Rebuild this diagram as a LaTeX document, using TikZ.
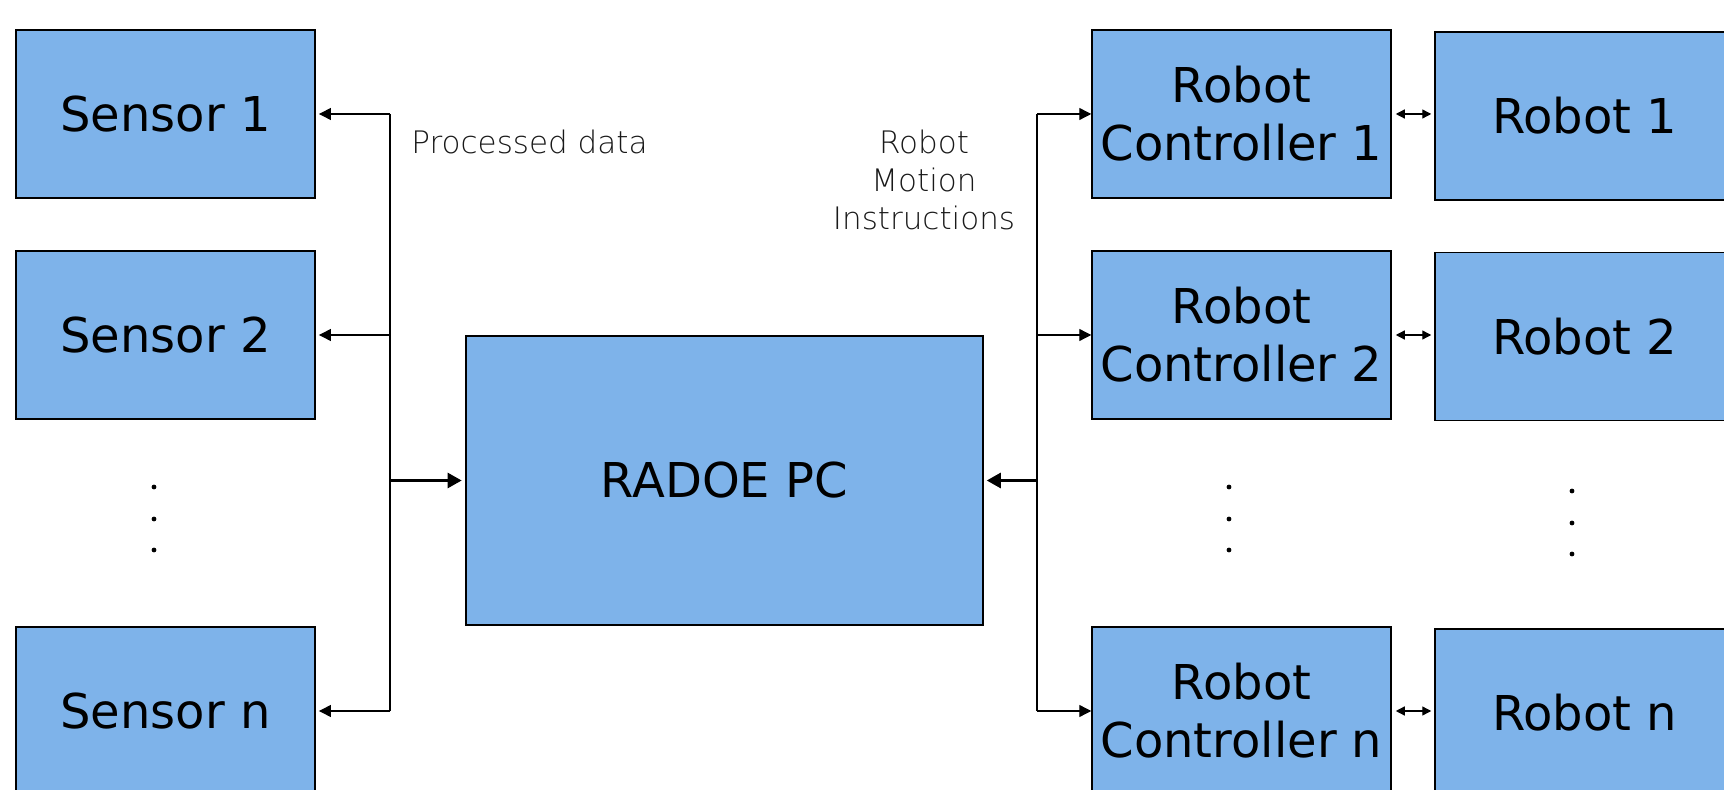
\documentclass[tikz,border=0pt]{standalone}
\usepackage{fontspec}
\setmainfont{DejaVu Sans}
\newfontfamily\notefont{DejaVu Sans ExtraLight}
\usetikzlibrary{arrows.meta}
\definecolor{boxblue}{RGB}{126,179,234}
\definecolor{notegray}{RGB}{25,25,25}

\begin{document}
\begin{tikzpicture}[x=0.5pt,y=-0.5pt,
  block/.style={draw=black, line width=0.75pt, fill=boxblue, inner sep=0pt,
    minimum width=149.5pt, minimum height=84pt, align=center,
    font=\fontsize{24}{29}\selectfont},
  pcblock/.style={block, minimum width=258.5pt, minimum height=144.5pt},
  note/.style={align=center, text=notegray, inner sep=0pt,
    font=\notefont\fontsize{15.5}{19}\selectfont},
  feed/.style={line width=0.65pt, -{Triangle[length=6pt,width=6pt]}},
  bus/.style={line width=0.65pt},
  mainfeed/.style={line width=1.35pt, -{Triangle[length=7pt,width=7.5pt]}},
  link/.style={line width=0.65pt, {Triangle[length=4.5pt,width=4.5pt]}-{Triangle[length=4.5pt,width=4.5pt]},
    shorten <=2pt, shorten >=1.5pt},
  dot/.style={circle, fill=black, inner sep=0pt, minimum size=2.4pt}
]
\useasboundingbox (0,0) rectangle (1724,790);
\clip (0,0) rectangle (1724,790);

% sensors
\node[block] (s1) at (165.5,114) {Sensor 1};
\node[block] (s2) at (165.5,335) {Sensor 2};
\node[block] (sn) at (165.5,711) {Sensor n};

% central computer
\node[pcblock] (pc) at (724.5,480.5) {RADOE PC};

% robot controllers
\node[block] (c1) at (1241.5,114) {Robot\\Controller 1};
\node[block] (c2) at (1241.5,335) {Robot\\Controller 2};
\node[block] (cn) at (1241.5,711) {Robot\\Controller n};

% robots
\node[block] (r1) at (1584.5,116) {Robot 1};
\node[block] (r2) at (1584.5,336.5) {Robot 2};
\node[block] (rn) at (1584.5,713) {Robot n};

% ellipsis dots
\node[dot] (ls1) at (154,487) {};
\node[dot] (ls2) at (154,519) {};
\node[dot] (ls3) at (154,550) {};
\node[dot] (cs1) at (1229,487) {};
\node[dot] (cs2) at (1229,519) {};
\node[dot] (cs3) at (1229,550) {};
\node[dot] (rs1) at (1572,491) {};
\node[dot] (rs2) at (1572,523) {};
\node[dot] (rs3) at (1572,554) {};

% bus lines
\coordinate (bl) at (390,0);
\coordinate (br) at (1037,0);

\draw[bus] (bl |- s1.east) -- (bl |- sn.east);
\draw[feed, shorten >=1.6pt] (bl |- s1.east) -- (s1.east);
\draw[feed, shorten >=1.6pt] (bl |- s2.east) -- (s2.east);
\draw[feed, shorten >=1.6pt] (bl |- sn.east) -- (sn.east);
\draw[mainfeed, shorten >=1.8pt] (bl |- pc.west) -- (pc.west);

\draw[bus] (br |- c1.west) -- (br |- cn.west);
\draw[feed] (br |- c1.west) -- (c1.west);
\draw[feed] (br |- c2.west) -- (c2.west);
\draw[feed] (br |- cn.west) -- (cn.west);
\draw[mainfeed, shorten >=1.5pt] (br |- pc.east) -- (pc.east);

% controller to robot links
\draw[link] (c1.east) -- (c1.east -| r1.west);
\draw[link] (c2.east) -- (c2.east -| r2.west);
\draw[link] (cn.east) -- (cn.east -| rn.west);

% labels
\node[note] (pdata) at (529.5,142) {Processed data};
\node[note] (rmi) at (924,180) {Robot\\Motion\\Instructions};
\end{tikzpicture}
\end{document}
